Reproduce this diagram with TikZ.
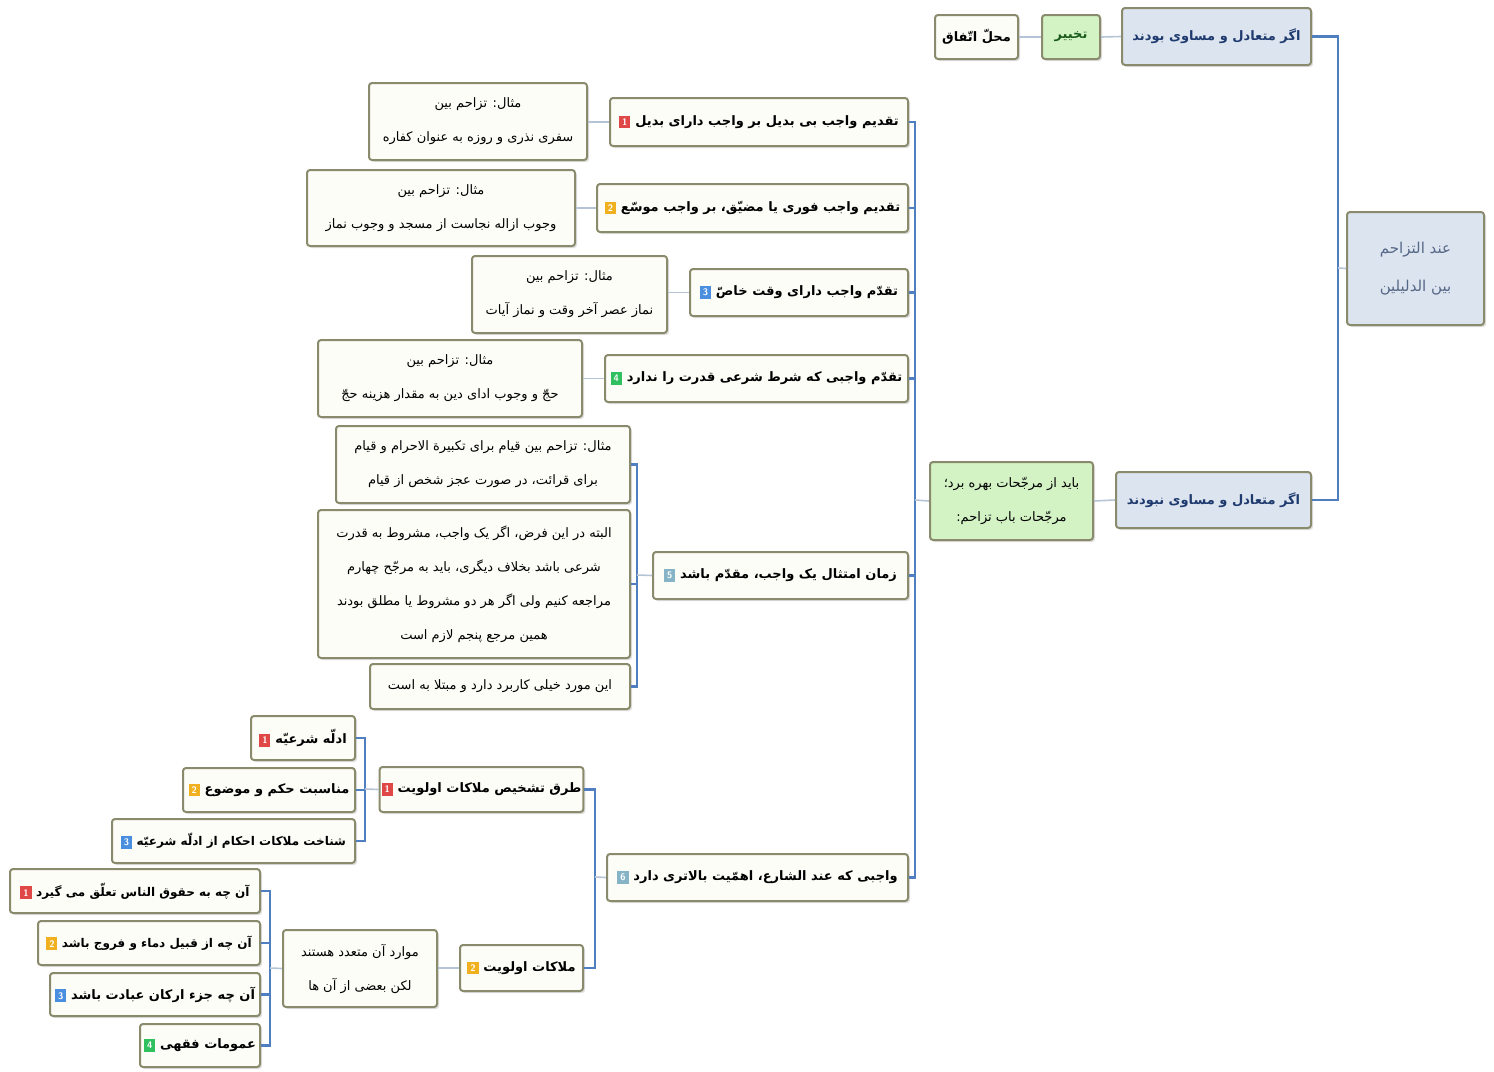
\documentclass[tikz,border=0pt]{standalone}
\usepackage{fontspec}
\newfontfamily\arfont[Script=Arabic]{DejaVu Sans}
\TeXXeTstate=1
\usetikzlibrary{shadows}
\definecolor{fillblue}{HTML}{DCE4EF}
\definecolor{fillgreen}{HTML}{D3F3C5}
\definecolor{fillwhite}{HTML}{FDFDF8}
\definecolor{bordc}{HTML}{8A8A6C}
\definecolor{lineblue}{HTML}{4F7FC0}
\definecolor{stubc}{HTML}{B4C4D6}
\definecolor{navytxt}{HTML}{1F3A6E}
\definecolor{roottxt}{HTML}{566887}
\definecolor{greentxt}{HTML}{1A5A1A}
\definecolor{bred}{HTML}{E04848}
\definecolor{borange}{HTML}{F0B020}
\definecolor{bblue}{HTML}{4A8EE0}
\definecolor{bgreen}{HTML}{30C060}
\definecolor{bteal}{HTML}{86B4C6}
\newcommand\ar[1]{{\arfont\beginR #1\endR}}
\newcommand\bdg[2]{{\setlength{\fboxsep}{3pt}\colorbox{#1}{\textcolor{white}{\fontsize{9.5}{9.5}\selectfont\sffamily\bfseries #2}}}}
\tikzset{
  box/.style={draw=bordc, line width=2pt, rounded corners=3pt, fill=fillwhite,
    inner sep=2pt, text=black, align=center,
    font=\fontsize{13}{34}\selectfont,
    drop shadow={shadow xshift=2pt, shadow yshift=-2pt, opacity=0.25}},
  bluebox/.style={box, fill=fillblue, text=navytxt},
  greenbox/.style={box, fill=fillgreen},
  bold/.style={font=\fontsize{13}{34}\selectfont\bfseries},
  boldsm/.style={font=\fontsize{12}{34}\selectfont\bfseries},
  conn/.style={draw=lineblue, line width=2.2pt},
  stub/.style={draw=stubc, line width=1.6pt},
}
\begin{document}
\begin{tikzpicture}[x=1pt,y=-1pt]
\useasboundingbox (0,0) rectangle (1494,1071);
% root and first level
\node[bluebox, text=roottxt, minimum width=137pt, minimum height=113pt, font=\fontsize{15}{38}\selectfont] (root) at (1415.5,268.5) {\ar{عند التزاحم}\\\ar{بین الدلیلین}};
\node[bluebox, bold, minimum width=189pt, minimum height=57pt] (eq) at (1216.5,36.5) {\ar{اگر متعادل و مساوی بودند}};
\node[greenbox, bold, text=greentxt, minimum width=58pt, minimum height=44pt] (takhyir) at (1071,37) {\ar{تخییر}};
\node[box, bold, minimum width=83pt, minimum height=44pt] (mahal) at (976.5,37) {\ar{محلّ اتّفاق}};
\node[bluebox, bold, minimum width=195pt, minimum height=56pt] (neq) at (1213.5,500) {\ar{اگر متعادل و مساوی نبودند}};
\node[greenbox, minimum width=163pt, minimum height=78pt] (green) at (1011.5,501) {\ar{باید از مرجّحات بهره برد؛}\\\ar{مرجّحات باب تزاحم:}};
% main items
\node[box, bold, minimum width=298pt, minimum height=48pt] (m1) at (759,122) {\bdg{bred}{1}\ \ar{تقدیم واجب بی بدیل بر واجب دارای بدیل}};
\node[box, minimum width=218pt, minimum height=77pt] (e1) at (478,121.5) {\ar{مثال: تزاحم بین}\\\ar{سفری نذری و روزه به عنوان کفاره}};
\node[box, bold, minimum width=311pt, minimum height=48pt] (m2) at (752.5,208) {\bdg{borange}{2}\ \ar{تقدیم واجب فوری یا مضیّق، بر واجب موسّع}};
\node[box, minimum width=268pt, minimum height=76pt] (e2) at (441,208) {\ar{مثال: تزاحم بین}\\\ar{وجوب ازاله نجاست از مسجد و وجوب نماز}};
\node[box, bold, minimum width=218pt, minimum height=47pt] (m3) at (799,292.5) {\bdg{bblue}{3}\ \ar{تقدّم واجب دارای وقت خاصّ}};
\node[box, minimum width=195pt, minimum height=77pt] (e3) at (569.5,294.5) {\ar{مثال: تزاحم بین}\\\ar{نماز عصر آخر وقت و نماز آیات}};
\node[box, bold, minimum width=303pt, minimum height=47pt] (m4) at (756.5,378.5) {\bdg{bgreen}{4}\ \ar{تقدّم واجبی که شرط شرعی قدرت را ندارد}};
\node[box, minimum width=264pt, minimum height=77pt] (e4) at (450,378.5) {\ar{مثال: تزاحم بین}\\\ar{حجّ و وجوب ادای دین به مقدار هزینه حجّ}};
\node[box, bold, minimum width=255pt, minimum height=47pt] (m5) at (780.5,575.5) {\bdg{bteal}{5}\ \ar{زمان امتثال یک واجب، مقدّم باشد}};
\node[box, minimum width=294pt, minimum height=77pt] (n5a) at (483,464.5) {\ar{مثال: تزاحم بین قیام برای تکبیرة الاحرام و قیام}\\\ar{برای قرائت، در صورت عجز شخص از قیام}};
\node[box, minimum width=312pt, minimum height=148pt] (n5b) at (474,584) {\ar{البته در این فرض، اگر یک واجب، مشروط به قدرت}\\\ar{شرعی باشد بخلاف دیگری، باید به مرجّح چهارم}\\\ar{مراجعه کنیم ولی اگر هر دو مشروط یا مطلق بودند}\\\ar{همین مرجع پنجم لازم است}};
\node[box, minimum width=260pt, minimum height=45pt] (n5c) at (500,686.5) {\ar{این مورد خیلی کاربرد دارد و مبتلا به است}};
\node[box, bold, minimum width=301pt, minimum height=47pt] (m6) at (757.5,877.5) {\bdg{bteal}{6}\ \ar{واجبی که عند الشارع، اهمّیت بالاتری دارد}};
% item 6 subtree
\node[box, bold, minimum width=203pt, minimum height=45pt] (t1) at (481.5,789.5) {\bdg{bred}{1}\ \ar{طرق تشخیص ملاکات اولویت}};
\node[box, bold, minimum width=104pt, minimum height=44pt] (t1a) at (303,738) {\bdg{bred}{1}\ \ar{ادلّه شرعیّه}};
\node[box, bold, minimum width=172pt, minimum height=44pt] (t1b) at (269,790) {\bdg{borange}{2}\ \ar{مناسبت حکم و موضوع}};
\node[box, boldsm, minimum width=243pt, minimum height=44pt] (t1c) at (233.5,841) {\bdg{bblue}{3}\ \ar{شناخت ملاکات احکام از ادلّه شرعیّه}};
\node[box, bold, minimum width=123pt, minimum height=46pt] (t2) at (521.5,968) {\bdg{borange}{2}\ \ar{ملاکات اولویت}};
\node[box, minimum width=154pt, minimum height=77pt] (mw) at (360,968.5) {\ar{موارد آن متعدد هستند}\\\ar{لکن بعضی از آن ها}};
\node[box, boldsm, minimum width=250pt, minimum height=44pt] (c1) at (135,891) {\bdg{bred}{1}\ \ar{آن چه به حقوق الناس تعلّق می گیرد}};
\node[box, boldsm, minimum width=222pt, minimum height=44pt] (c2) at (149,943) {\bdg{borange}{2}\ \ar{آن چه از قبیل دماء و فروج باشد}};
\node[box, bold, minimum width=210pt, minimum height=43pt] (c3) at (155,994.5) {\bdg{bblue}{3}\ \ar{آن چه جزء ارکان عبادت باشد}};
\node[box, bold, minimum width=120pt, minimum height=43pt] (c4) at (200,1045.5) {\bdg{bgreen}{4}\ \ar{عمومات فقهی}};
% junctions
\coordinate (j1) at (1338,268);
\coordinate (j2) at (915,500);
\coordinate (j3) at (637,575);
\coordinate (j4) at (595,877);
\coordinate (j5) at (365,789);
\coordinate (j6) at (270,968);
% connectors
\draw[conn] (eq.east) -| (j1) |- (neq.east);
\draw[stub] (root.west) -- (j1);
\draw[stub] (eq.west) -- (takhyir.east);
\draw[stub] (takhyir.west) -- (mahal.east);
\draw[stub] (neq.west) -- (green.east);
\draw[conn] (m1.east) -| (j2) |- (m6.east);
\foreach \n in {m2,m3,m4,m5} \draw[conn] (\n.east) -- (\n.east -| j2);
\draw[stub] (green.west) -- (j2);
\draw[stub] (m1.west) -- (m1.west -| e1.east);
\draw[stub] (m2.west) -- (m2.west -| e2.east);
\draw[stub] (m3.west) -- (m3.west -| e3.east);
\draw[stub] (m4.west) -- (m4.west -| e4.east);
\draw[conn] (n5a.east) -| (j3) |- (n5c.east);
\draw[conn] (n5b.east) -- (n5b.east -| j3);
\draw[stub] (m5.west) -- (j3);
\draw[conn] (t1.east) -| (j4) |- (t2.east);
\draw[stub] (m6.west) -- (j4);
\draw[conn] (t1a.east) -| (j5) |- (t1c.east);
\draw[conn] (t1b.east) -- (t1b.east -| j5);
\draw[stub] (t1.west) -- (j5);
\draw[stub] (t2.west) -- (t2.west -| mw.east);
\draw[conn] (c1.east) -| (j6) |- (c4.east);
\draw[conn] (c2.east) -- (c2.east -| j6);
\draw[conn] (c3.east) -- (c3.east -| j6);
\draw[stub] (mw.west) -- (j6);
\end{tikzpicture}
\end{document}
